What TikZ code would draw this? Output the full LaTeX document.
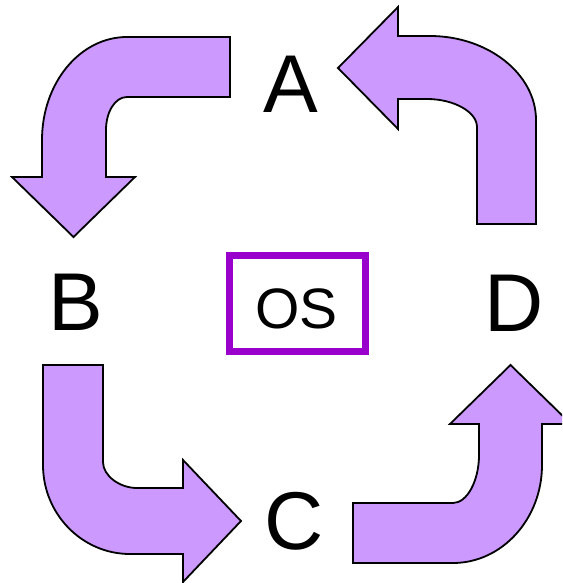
\documentclass[tikz,border=0pt]{standalone}
\usepackage{fontspec}
\setmainfont{Liberation Sans}
\definecolor{arrowfill}{HTML}{CC99FF}
\definecolor{osframe}{HTML}{9900CC}
\begin{document}
\begin{tikzpicture}[x=1pt,y=-1pt,
  bentarrow/.style={fill=arrowfill,draw=black,line width=1.8pt,line join=miter},
  letter/.style={inner sep=0pt,anchor=base,font=\fontsize{82}{82}\selectfont},
  osbox/.style={draw=osframe,line width=7pt,minimum width=136pt,minimum height=96pt,inner sep=0pt}]
\useasboundingbox (0,0) rectangle (562,583);
\clip (0,0) rectangle (562,583);
% A -> B
\draw[bentarrow] (230,37) -- (127,37) .. controls (80,37) and (42,83) .. (42,140)
  -- (42,177) -- (12,177) -- (73.5,237) -- (135,177) -- (106,177) -- (106,130)
  .. controls (106,112) and (115,97) .. (127,97) -- (230,97) -- cycle;
% D -> A
\draw[bentarrow] (338,68) -- (398,7) -- (398,36) -- (430,36)
  .. controls (488,36) and (536,74) .. (536,120) -- (536,224) -- (477,224) -- (477,127)
  .. controls (477,112) and (454,99) .. (427,99) -- (398,99) -- (398,129) -- cycle;
% B -> C
\draw[bentarrow] (43,365) -- (103,365) -- (103,462)
  .. controls (103,476) and (120,488) .. (137,488) -- (183,488) -- (183,460) -- (241,521)
  -- (183,582) -- (183,554) -- (130,554) .. controls (82,554) and (43,514) .. (43,465) -- cycle;
% C -> D
\draw[bentarrow] (353,503) -- (453,503) .. controls (467,503) and (479,481) .. (479,455)
  -- (479,424) -- (450,424) -- (510.5,365) -- (571,424) -- (542,424) -- (542,465)
  .. controls (542,519) and (502,563) .. (453,563) -- (353,563) -- cycle;
\node[letter] (A) at (291,112.7) {A};
\node[letter] (B) at (76,330.7) {B};
\node[letter] (C) at (294.5,549) {C};
\node[letter] (D) at (514,331) {D};
\node[osbox] (box) at (297.5,303.5) {};
\node[inner sep=0pt,anchor=base,font=\fontsize{57}{57}\selectfont] (os) at (296.5,328) {OS};
\end{tikzpicture}
\end{document}
